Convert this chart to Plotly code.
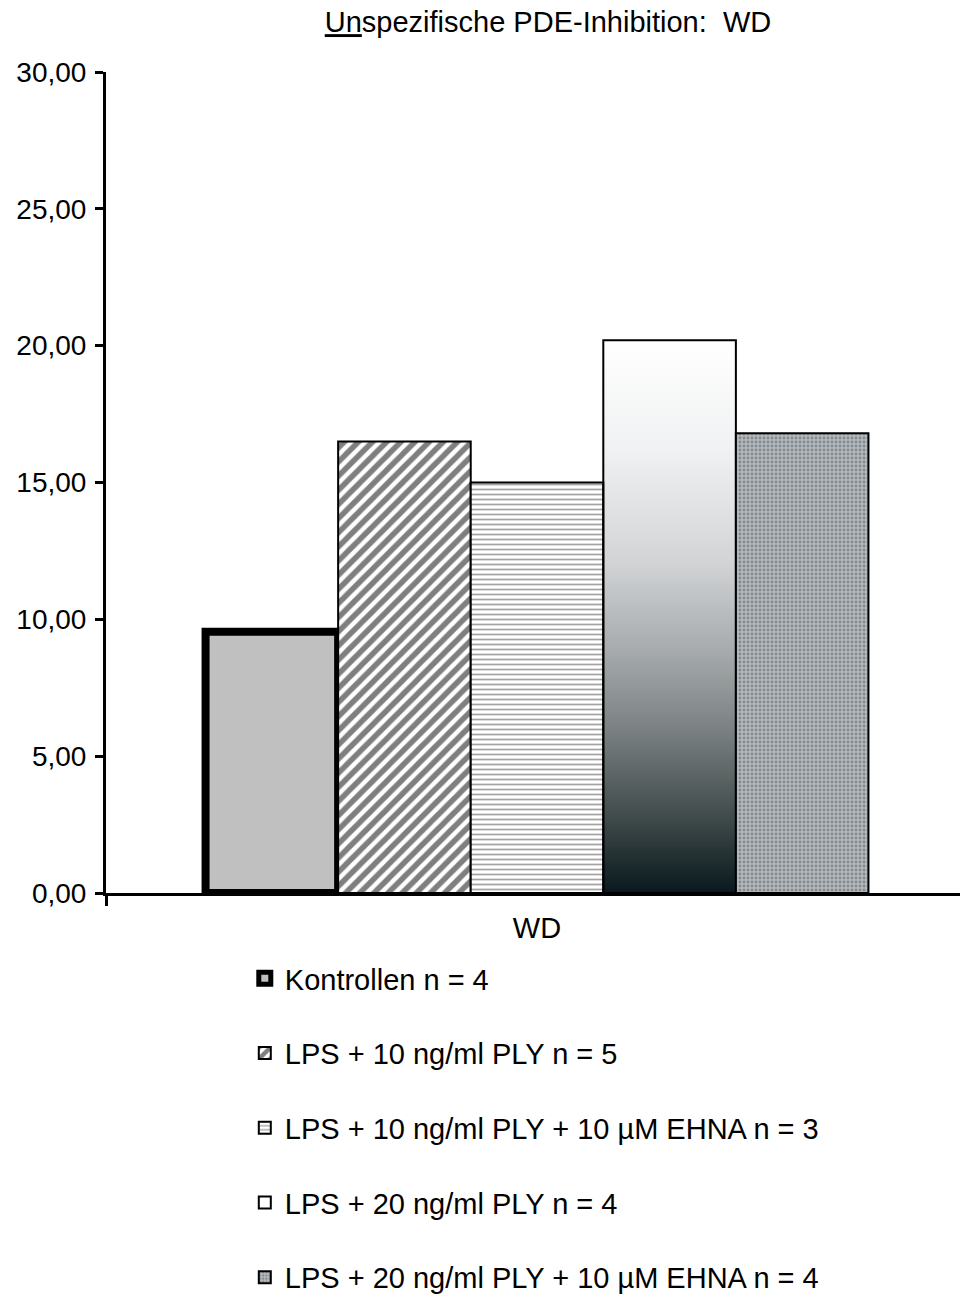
import base64
import struct
import zlib

import plotly.graph_objects as go

# --- data -------------------------------------------------------------
category = ["WD"]
series_names = [
    "Kontrollen n = 4",
    "LPS + 10 ng/ml PLY n = 5",
    "LPS + 10 ng/ml PLY + 10 µM EHNA n = 3",
    "LPS + 20 ng/ml PLY n = 4",
    "LPS + 20 ng/ml PLY + 10 µM EHNA n = 4",
]
series_values = [9.55, 16.5, 15.0, 20.2, 16.8]
y_tick_values = [0, 5, 10, 15, 20, 25, 30]
title_text = "<u>Un</u>spezifische PDE-Inhibition:  WD"

FONT = "Liberation Sans, Arial, sans-serif"
BARGAP = 0.231


def png_data_uri(rows):
    """Encode a list of RGB pixel rows as a PNG data URI."""
    h = len(rows)
    w = len(rows[0])
    raw = b"".join(b"\x00" + bytes(v for px in row for v in px) for row in rows)

    def chunk(tag, data):
        c = struct.pack(">I", len(data)) + tag + data
        return c + struct.pack(">I", zlib.crc32(tag + data) & 0xFFFFFFFF)

    png = b"\x89PNG\r\n\x1a\n"
    png += chunk(b"IHDR", struct.pack(">IIBBBBB", w, h, 8, 2, 0, 0, 0))
    png += chunk(b"IDAT", zlib.compress(raw, 9))
    png += chunk(b"IEND", b"")
    return "data:image/png;base64," + base64.b64encode(png).decode()


def vertical_gradient(stops, height=256):
    rows = []
    for i in range(height):
        t = i / (height - 1)
        for (t0, c0), (t1, c1) in zip(stops[:-1], stops[1:]):
            if t0 <= t <= t1:
                f = (t - t0) / (t1 - t0) if t1 > t0 else 0
                rows.append([tuple(int(round(a + (b - a) * f)) for a, b in zip(c0, c1))])
                break
    return png_data_uri(rows)


gradient_stops = [
    (0.00, (255, 255, 255)),
    (0.20, (240, 241, 242)),
    (0.40, (210, 212, 214)),
    (0.55, (170, 174, 176)),
    (0.70, (125, 131, 132)),
    (0.85, (70, 80, 80)),
    (1.00, (10, 26, 30)),
]

styles = [
    dict(color="#c0c0c0", line=dict(color="black", width=8)),
    dict(color="white", line=dict(color="black", width=2),
         pattern=dict(shape="/", fgcolor="black", bgcolor="white", size=10, solidity=0.55)),
    dict(color="white", line=dict(color="black", width=2),
         pattern=dict(shape="-", fgcolor="#4a4a4a", bgcolor="white", size=5, solidity=0.35)),
    dict(color="rgba(255,255,255,0)", line=dict(color="black", width=2)),
    dict(color="#a8aeb2", line=dict(color="black", width=2),
         pattern=dict(shape=".", fgcolor="#545b60", bgcolor="#b4b9bd", size=4, solidity=0.4)),
]

fig = go.Figure()
for i, (name, val) in enumerate(zip(series_names, series_values)):
    fig.add_trace(go.Bar(
        x=category, y=[val], name=name, marker=styles[i],
        legendgroup=f"g{i}", hoverinfo="skip",
    ))

# gradient fill underneath the transparent "LPS + 20 ng/ml PLY" bar
n = len(series_names)
group_w = 1 - BARGAP
bar_w = group_w / n
k = 3
fig.add_layout_image(
    source=vertical_gradient(gradient_stops),
    xref="x", yref="y",
    x=-group_w / 2 + k * bar_w, y=series_values[k],
    sizex=bar_w, sizey=series_values[k],
    xanchor="left", yanchor="top", sizing="stretch", layer="below",
)

fig.update_layout(
    width=960, height=1295,
    margin=dict(l=106, r=0, t=72, b=402, autoexpand=False),
    paper_bgcolor="white", plot_bgcolor="rgba(0,0,0,0)",
    barmode="group", bargap=BARGAP, bargroupgap=0,
    font=dict(family=FONT, size=28, color="black"),
    title=dict(text=title_text, x=548 / 960, xanchor="center", y=1 - 22 / 1295, yanchor="middle",
               font=dict(family=FONT, size=29, color="black")),
    showlegend=True,
    legend=dict(
        xref="container", yref="container", x=0.255, y=1 - 953 / 1295,
        xanchor="left", yanchor="top", orientation="v", maxheight=600,
        tracegroupgap=34, itemwidth=30, bgcolor="rgba(0,0,0,0)",
        font=dict(family=FONT, size=29, color="black"),
    ),
    xaxis=dict(
        type="category", range=[-0.5, 0.4907],
        showline=True, linecolor="black", linewidth=3,
        ticks="outside", tickson="boundaries", ticklen=10, tickwidth=3, tickcolor="black",
        ticklabelstandoff=7,
        showgrid=False, zeroline=False,
        tickfont=dict(family=FONT, size=29, color="black"),
    ),
    yaxis=dict(
        range=[0, 30], tickvals=y_tick_values, tickformat=".2f",
        showline=True, linecolor="black", linewidth=3,
        ticks="outside", ticklen=8, tickwidth=3, tickcolor="black",
        ticklabelstandoff=3,
        showgrid=False, zeroline=False,
        tickfont=dict(family=FONT, size=28, color="black"),
    ),
    separators=",.",
)

fig.write_html("out.html")
